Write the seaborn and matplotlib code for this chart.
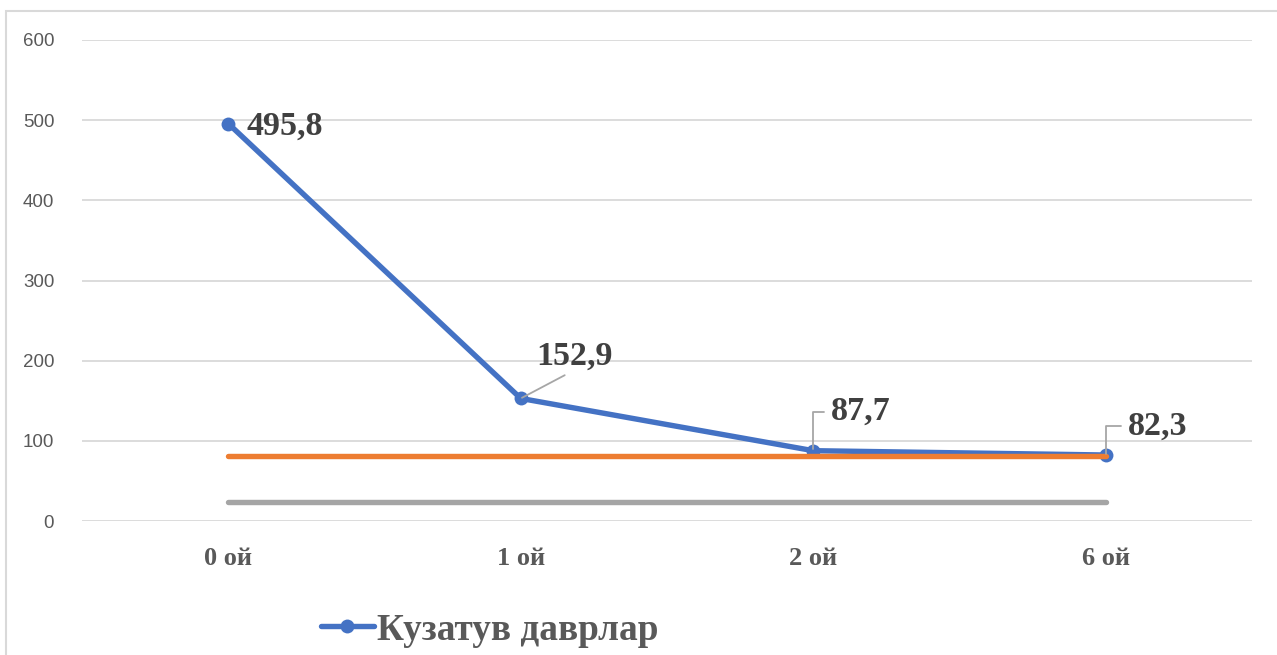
import matplotlib
matplotlib.use("Agg")
import matplotlib.pyplot as plt
import pandas as pd
import seaborn as sns
from matplotlib.patches import Rectangle

# Observation periods and measured values
periods = ["0 ой", "1 ой", "2 ой", "6 ой"]
observed = [495.8, 152.9, 87.7, 82.3]
upper_ref = [81, 81, 81, 81]
lower_ref = [24, 24, 24, 24]
y_ticks = [0, 100, 200, 300, 400, 500, 600]
series_name = "Кузатув даврлар"

sns.set_style("white")
plt.rcParams["font.family"] = ["Liberation Serif", "DejaVu Serif"]

W, H, DPI = 1277, 655, 100
fig = plt.figure(figsize=(W / DPI, H / DPI), dpi=DPI)
ax = fig.add_axes([82 / W, (H - 521) / H, (1252 - 82) / W, (521 - 40) / H])

df = pd.DataFrame({
    "pos": range(len(periods)),
    "observed": observed,
    "upper": upper_ref,
    "lower": lower_ref,
})

BLUE, ORANGE, GREY = "#4472C4", "#ED7D31", "#A5A5A5"

sns.lineplot(data=df, x="pos", y="observed", ax=ax, color=BLUE, lw=3.9,
             marker="o", markersize=10, markeredgewidth=0, label=series_name,
             solid_capstyle="round", zorder=3)
sns.lineplot(data=df, x="pos", y="upper", ax=ax, color=ORANGE, lw=3.9,
             solid_capstyle="round", legend=False, zorder=4)
sns.lineplot(data=df, x="pos", y="lower", ax=ax, color=GREY, lw=3.9,
             solid_capstyle="round", legend=False, zorder=4)

ax.set_xlim(-0.5, len(periods) - 0.5)
ax.set_ylim(0, 600)
ax.set_yticks(y_ticks)
ax.set_yticklabels([str(t) for t in y_ticks], family="Liberation Sans",
                   fontsize=13.5, color="#595959")
ax.set_xticks(range(len(periods)))
ax.set_xticklabels(periods, fontsize=19, fontweight="bold", color="#595959")
ax.tick_params(axis="y", length=0, pad=20)
ax.tick_params(axis="x", length=0, pad=19)
ax.set_xlabel("")
ax.set_ylabel("")
ax.grid(axis="y", color="#D9D9D9", lw=1.3)
ax.grid(axis="x", visible=False)
for s in ax.spines.values():
    s.set_visible(False)

# Value labels with leader lines
label_kw = dict(textcoords="offset pixels", fontsize=24.5, fontweight="bold",
                color="#404040", zorder=6)
leader = dict(arrowstyle="-", color="#A6A6A6", lw=1.3, shrinkB=1)

ax.annotate(f"{observed[0]:.1f}".replace(".", ","), xy=(0, observed[0]),
            xytext=(18, -3), ha="left", va="center", **label_kw)
ax.annotate(f"{observed[1]:.1f}".replace(".", ","), xy=(1, observed[1]),
            xytext=(54, 42), ha="center", va="center",
            arrowprops=dict(**leader, shrinkA=0, relpos=(0.45, 0.0)), **label_kw)
ax.annotate(f"{observed[2]:.1f}".replace(".", ","), xy=(2, observed[2]),
            xytext=(48, 39), ha="center", va="center",
            arrowprops=dict(**leader, shrinkA=3, relpos=(0.0, 0.5),
                            connectionstyle="angle,angleA=0,angleB=90,rad=0"),
            **label_kw)
ax.annotate(f"{observed[3]:.1f}".replace(".", ","), xy=(3, observed[3]),
            xytext=(52, 29), ha="center", va="center",
            arrowprops=dict(**leader, shrinkA=3, relpos=(0.0, 0.5),
                            connectionstyle="angle,angleA=0,angleB=90,rad=0"),
            **label_kw)

# Legend below the plot
handles, labels = ax.get_legend_handles_labels()
if ax.get_legend() is not None:
    ax.get_legend().remove()
keep = [(h, l) for h, l in zip(handles, labels) if l == series_name]
fig.legend([k[0] for k in keep], [k[1] for k in keep], loc="center left",
           bbox_to_anchor=(287 / W, 1 - 630 / H), frameon=False,
           prop=dict(family="Liberation Serif", weight="bold", size=26.8),
           labelcolor="#595959", handlelength=1.45, handletextpad=0.08)

# Chart area border
fig.patches.append(Rectangle((6 / W, -0.2), 1.5, 1.2 - 11 / H,
                             transform=fig.transFigure, fill=False,
                             ec="#D9D9D9", lw=1.5))

fig.savefig("out.png", dpi=DPI)
